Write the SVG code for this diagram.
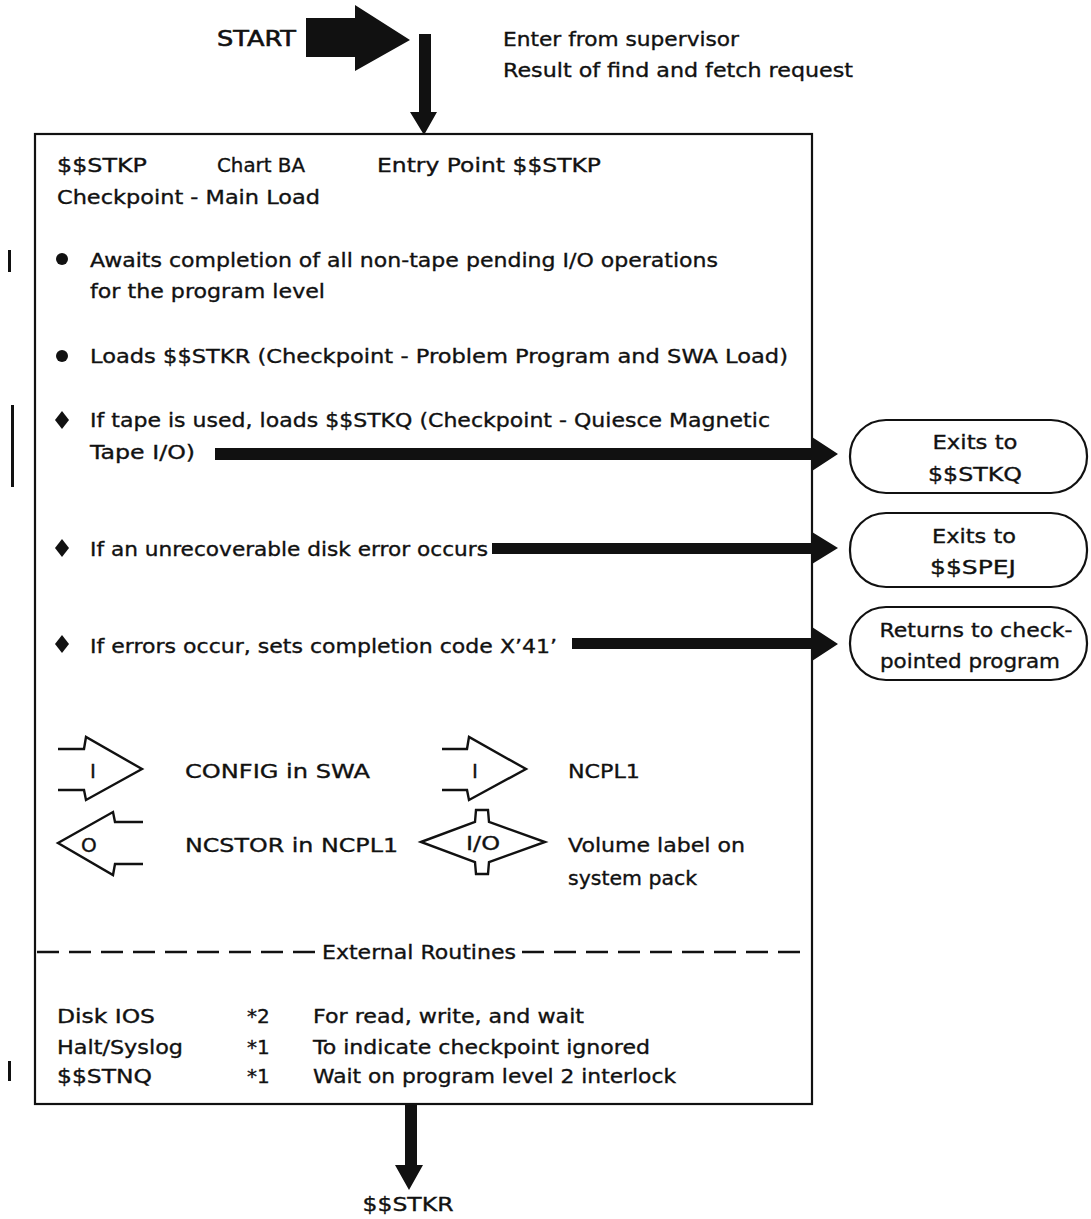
<svg xmlns="http://www.w3.org/2000/svg" width="1091" height="1219" viewBox="0 0 1091 1219">
  <style>
    .t { font-family: "DejaVu Sans", "Liberation Sans", Arial, sans-serif; font-size: 20px; fill: #111; stroke: #111; stroke-width: 0.35; }
    .big { font-size: 21px; stroke-width: 0.6; }
    .line { fill: none; stroke: #111; stroke-width: 2.2; }
    .box { fill: #fff; stroke: #111; stroke-width: 2.2; }
    .solid { fill: #111; stroke: none; }
    .dash { fill: none; stroke: #111; stroke-width: 2.5; stroke-dasharray: 22 10; }
    .sym { fill: none; stroke: #111; stroke-width: 2.4; stroke-linejoin: miter; }
  </style>

  <rect width="1091" height="1219" fill="#fff"/>

  <!-- Entry marker -->
  <g id="start">
    <text class="t big" x="217" y="46" textLength="79" lengthAdjust="spacingAndGlyphs">START</text>
    <polygon class="solid" points="306,18 355,18 355,5 410,40 355,71 355,57 306,57"/>
    <text class="t" x="503" y="46" textLength="236" lengthAdjust="spacingAndGlyphs">Enter from supervisor</text>
    <text class="t" x="503" y="77" textLength="350" lengthAdjust="spacingAndGlyphs">Result of find and fetch request</text>
  </g>

  <!-- Main process box -->
  <g id="main-box">
    <rect class="box" x="35" y="134" width="777" height="970"/>
    <text class="t" x="57" y="172" textLength="90" lengthAdjust="spacingAndGlyphs">$$STKP</text>
    <text class="t" x="217" y="172" textLength="88" lengthAdjust="spacingAndGlyphs">Chart BA</text>
    <text class="t" x="377" y="172" textLength="224" lengthAdjust="spacingAndGlyphs">Entry Point $$STKP</text>
    <text class="t" x="57" y="204" textLength="263" lengthAdjust="spacingAndGlyphs">Checkpoint - Main Load</text>

    <circle class="solid" cx="62" cy="259" r="6"/>
    <text class="t" x="90" y="267" textLength="628" lengthAdjust="spacingAndGlyphs">Awaits completion of all non-tape pending I/O operations</text>
    <text class="t" x="90" y="298" textLength="235" lengthAdjust="spacingAndGlyphs">for the program level</text>

    <circle class="solid" cx="62" cy="356" r="6"/>
    <text class="t" x="90" y="363" textLength="698" lengthAdjust="spacingAndGlyphs">Loads $$STKR (Checkpoint - Problem Program and SWA Load)</text>

    <polygon class="solid" points="62,411 69,420 62,429 55,420"/>
    <text class="t" x="90" y="427" textLength="680" lengthAdjust="spacingAndGlyphs">If tape is used, loads $$STKQ (Checkpoint - Quiesce Magnetic</text>
    <text class="t" x="90" y="459" textLength="105" lengthAdjust="spacingAndGlyphs">Tape I/O)</text>

    <polygon class="solid" points="62,539 69,548 62,557 55,548"/>
    <text class="t" x="90" y="556" textLength="398" lengthAdjust="spacingAndGlyphs">If an unrecoverable disk error occurs</text>

    <polygon class="solid" points="62,635 69,644 62,653 55,644"/>
    <text class="t" x="90" y="653" textLength="467" lengthAdjust="spacingAndGlyphs">If errors occur, sets completion code X’41’</text>

    <!-- data symbols -->
    <path class="sym" d="M58,749 H84 L86,737 L142,769 L86,800 L84,790 H58"/>
    <text class="t" x="90" y="778">I</text>
    <text class="t" x="185" y="778" textLength="185" lengthAdjust="spacingAndGlyphs">CONFIG in SWA</text>

    <path class="sym" d="M442,749 H467 L469,737 L526,769 L469,800 L467,790 H442"/>
    <text class="t" x="472" y="778">I</text>
    <text class="t" x="568" y="778" textLength="72" lengthAdjust="spacingAndGlyphs">NCPL1</text>

    <path class="sym" d="M143,822 H115 L113,812 L58,843 L113,875 L115,864 H143"/>
    <text class="t" x="81" y="852">O</text>
    <text class="t" x="185" y="852" textLength="213" lengthAdjust="spacingAndGlyphs">NCSTOR in NCPL1</text>

    <path class="sym" d="M421,842 L475,822 L476,810 L488,810 L489,822 L545,842 L489,862 L488,874 L476,874 L475,862 Z"/>
    <text class="t" x="483" y="850" text-anchor="middle" textLength="34" lengthAdjust="spacingAndGlyphs">I/O</text>
    <text class="t" x="568" y="852" textLength="177" lengthAdjust="spacingAndGlyphs">Volume label on</text>
    <text class="t" x="568" y="885" textLength="129" lengthAdjust="spacingAndGlyphs">system pack</text>

    <!-- external routines section -->
    <rect x="37" y="938" width="773" height="30" fill="#fff"/>
    <line class="dash" x1="37" y1="952" x2="318" y2="952"/>
    <line class="dash" x1="522" y1="952" x2="810" y2="952"/>
    <text class="t" x="322" y="959" textLength="194" lengthAdjust="spacingAndGlyphs">External Routines</text>

    <text class="t" x="57" y="1023" textLength="98" lengthAdjust="spacingAndGlyphs">Disk IOS</text>
    <text class="t" x="247" y="1023">*2</text>
    <text class="t" x="313" y="1023" textLength="271" lengthAdjust="spacingAndGlyphs">For read, write, and wait</text>
    <text class="t" x="57" y="1054" textLength="126" lengthAdjust="spacingAndGlyphs">Halt/Syslog</text>
    <text class="t" x="247" y="1054">*1</text>
    <text class="t" x="313" y="1054" textLength="337" lengthAdjust="spacingAndGlyphs">To indicate checkpoint ignored</text>
    <text class="t" x="57" y="1083" textLength="95" lengthAdjust="spacingAndGlyphs">$$STNQ</text>
    <text class="t" x="247" y="1083">*1</text>
    <text class="t" x="313" y="1083" textLength="363" lengthAdjust="spacingAndGlyphs">Wait on program level 2 interlock</text>
  </g>

  <!-- Exit terminals -->
  <g id="exit-stkq">
    <rect class="box" x="850" y="420" width="237" height="73" rx="36" ry="36"/>
    <text class="t" x="975" y="449" text-anchor="middle" textLength="85" lengthAdjust="spacingAndGlyphs">Exits to</text>
    <text class="t" x="975" y="481" text-anchor="middle" textLength="94" lengthAdjust="spacingAndGlyphs">$$STKQ</text>
  </g>
  <g id="exit-spej">
    <rect class="box" x="850" y="513" width="237" height="74" rx="36" ry="36"/>
    <text class="t" x="974" y="543" text-anchor="middle" textLength="84" lengthAdjust="spacingAndGlyphs">Exits to</text>
    <text class="t" x="973" y="574" text-anchor="middle" textLength="86" lengthAdjust="spacingAndGlyphs">$$SPEJ</text>
  </g>
  <g id="return-program">
    <rect class="box" x="850" y="607" width="237" height="73" rx="36" ry="36"/>
    <text class="t" x="976" y="637" text-anchor="middle" textLength="193" lengthAdjust="spacingAndGlyphs">Returns to check-</text>
    <text class="t" x="970" y="668" text-anchor="middle" textLength="180" lengthAdjust="spacingAndGlyphs">pointed program</text>
  </g>

  <!-- Next module label -->
  <g id="next-stkr">
    <text class="t" x="408" y="1211" text-anchor="middle" textLength="91" lengthAdjust="spacingAndGlyphs">$$STKR</text>
  </g>

  <!-- Revision bars in the margin -->
  <g id="revision-bars">
    <rect class="solid" x="8" y="250" width="3" height="22"/>
    <rect class="solid" x="11" y="405" width="3" height="82"/>
    <rect class="solid" x="8" y="1061" width="3" height="20"/>
  </g>

  <!-- Flow connectors -->
  <g id="connectors">
    <polygon class="solid" points="419,34 431,34 431,112 437,112 424,135 410,112 419,112"/>
    <polygon class="solid" points="215,448 812,448 812,437 838,454 812,471 812,460 215,460"/>
    <polygon class="solid" points="492,543 812,543 812,532 838,548 812,564 812,554 492,554"/>
    <polygon class="solid" points="572,638 812,638 812,627 838,644 812,661 812,649 572,649"/>
    <polygon class="solid" points="405,1104 417,1104 417,1165 423,1165 409,1190 395,1165 405,1165"/>
  </g>
</svg>
